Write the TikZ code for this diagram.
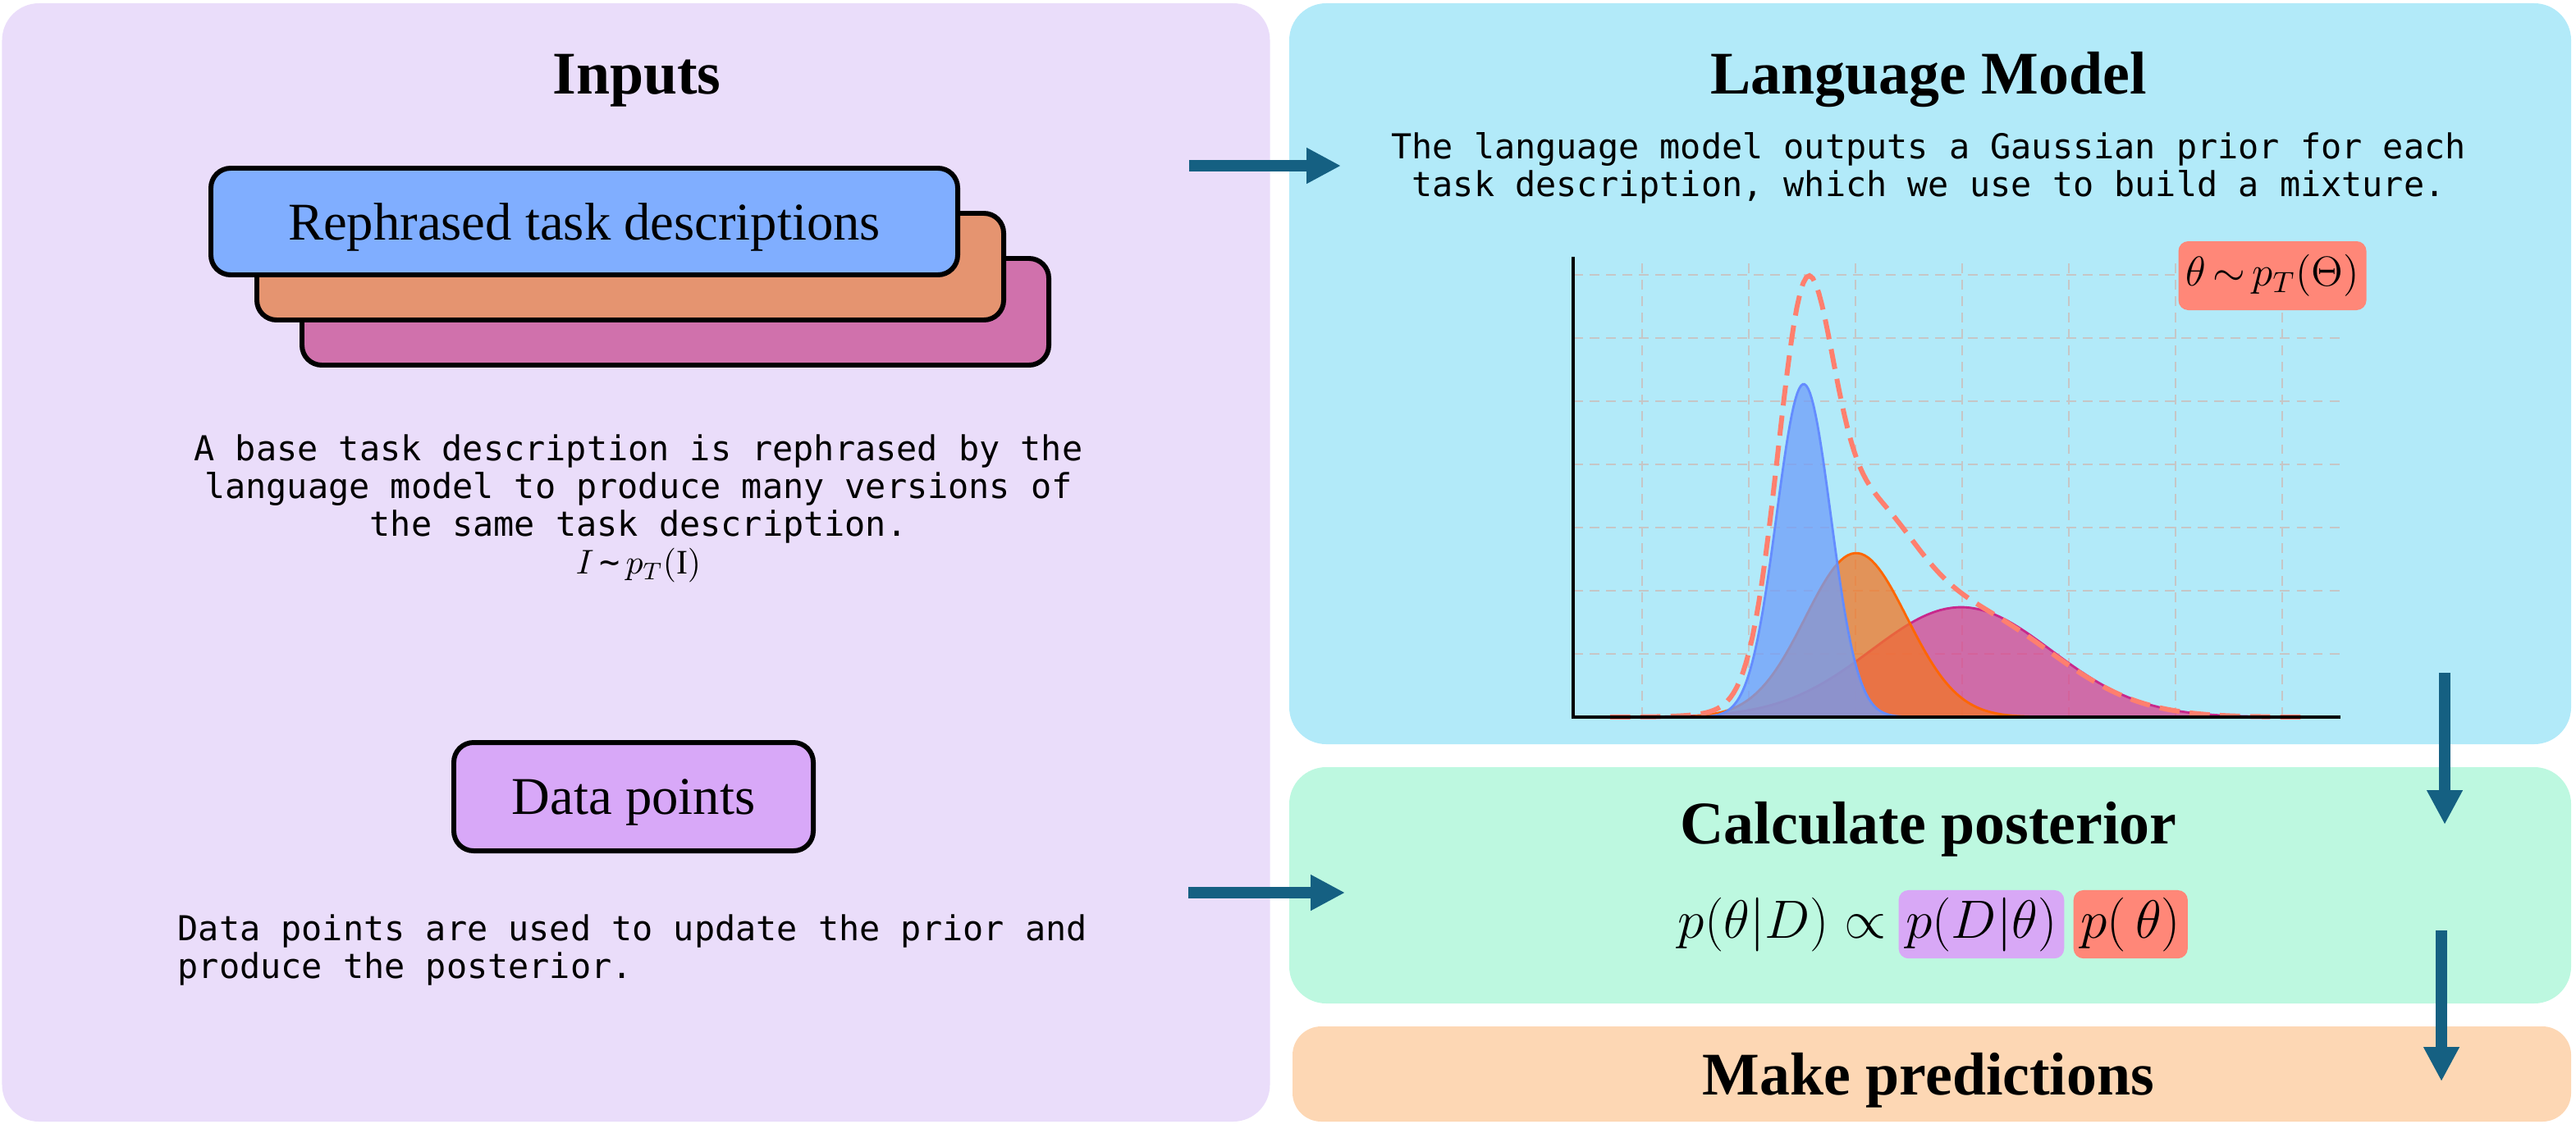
\RequirePackage{fix-cm}
\documentclass[tikz,border=0pt]{standalone}
\usepackage{amsmath,amssymb}
\usepackage{fontspec}
\setmainfont{Liberation Serif}
\newfontfamily\codefont{DejaVu Sans Mono}
\usepackage{xcolor}
\usepackage{tikz}
\usetikzlibrary{arrows.meta, positioning}
\definecolor{inputbg}{RGB}{234, 221, 250}
\definecolor{lmbg}{RGB}{178, 234, 249}
\definecolor{postbg}{RGB}{189, 248, 224}
\definecolor{predbg}{RGB}{253, 215, 180}
\definecolor{arrowc}{RGB}{21, 96, 130}
\definecolor{cardblue}{RGB}{128, 174, 255}
\definecolor{cardorange}{RGB}{229, 148, 112}
\definecolor{cardpink}{RGB}{208, 113, 172}
\definecolor{datac}{RGB}{216, 168, 248}
\definecolor{hlpurple}{RGB}{216, 168, 246}
\definecolor{hlred}{RGB}{255, 135, 120}
\definecolor{pinkfill}{RGB}{217, 66, 141}
\definecolor{orangefill}{RGB}{243, 118, 36}
\definecolor{bluefill}{RGB}{111, 157, 250}
\definecolor{pinkline}{RGB}{200, 40, 140}
\definecolor{orangeline}{RGB}{255, 102, 0}
\definecolor{blueline}{RGB}{100, 140, 255}
\definecolor{mixc}{RGB}{255, 127, 110}

\begin{document}
\begin{tikzpicture}[
    panel/.style={rectangle, rounded corners=0.45cm, inner sep=0pt},
    card/.style={rectangle, draw=black, line width=1.7pt, rounded corners=0.24cm, minimum width=9.1cm, minimum height=1.3cm, text depth=0pt, font=\fontsize{18.4}{22}\selectfont},
    paneltitle/.style={font=\fontsize{21}{25}\selectfont\bfseries, anchor=base, inner sep=0pt},
    desc/.style={font=\codefont\fontsize{11.9}{13.1}\selectfont, align=center, inner sep=0pt},
    hl/.style={rectangle, rounded corners=0.12cm, inner sep=2.5pt, font=\fontsize{18.7}{22}\selectfont},
    flow/.style={-{Triangle[length=4.2mm,width=4.1mm]}, line width=1.4mm, arrowc},
    grid line/.style={gray!45, line width=0.55pt, dash pattern=on 3.4pt off 2.3pt},
    declare function={gauss(\u,\m,\s)=exp(-min(0.5*((\u-\m)/\s)^2,20));}
]
    \useasboundingbox (0,0) rectangle (31.39,-13.97);

    \node[panel, fill=inputbg, minimum width=15.45cm, minimum height=13.63cm] (inputs) at (7.75,-6.855) {};
    \node[panel, fill=lmbg, minimum width=15.62cm, minimum height=9.03cm] (lm) at (23.52,-4.555) {};
    \node[panel, fill=postbg, minimum width=15.62cm, minimum height=2.88cm] (post) at (23.52,-10.79) {};
    \node[panel, fill=predbg, rounded corners=0.35cm, minimum width=15.58cm, minimum height=1.16cm] (pred) at (23.54,-13.09) {};

    \node[paneltitle] (inputstitle) at (7.76,-1.14) {Inputs};
    \node[paneltitle] (lmtitle) at (23.5,-1.14) {Language Model};
    \node[paneltitle] (posttitle) at (23.5,-10.28) {Calculate posterior};
    \node[paneltitle] (predtitle) at (23.5,-13.34) {Make predictions};

    \node[card, fill=cardpink] (card3) at (8.23,-3.80) {};
    \node[card, fill=cardorange] (card2) at (7.68,-3.25) {};
    \node[card, fill=cardblue] (card1) at (7.12,-2.70) {Rephrased task descriptions};
    \node[desc] (inputsdesc) at (7.78,-6.20) {A base task description is rephrased by the\\language model to produce many versions of\\the same task description.\\$I\,\text{\textasciitilde}\,p_T(\mathrm{I})$};

    \node[card, fill=datac, minimum width=4.38cm, minimum height=1.32cm] (data) at (7.72,-9.71) {Data points};
    \node[desc, align=left, anchor=west] (datadesc) at (2.16,-11.58) {Data points are used to update the prior and\\produce the posterior.};

    \node[desc] (lmdesc) at (23.5,-2.05) {The language model outputs a Gaussian prior for each\\task description, which we use to build a mixture.};

    \begin{scope}[shift={(19.17,-8.74)}, x=0.01cm, y=0.01cm]
        \foreach \k in {0,...,6} \draw[grid line] (84+130*\k,0) -- (84+130*\k,556);
        \foreach \k in {1,...,7} \draw[grid line] (0,77*\k) -- (935,77*\k);
        \foreach \m/\s/\h/\fc/\lc in {473/110/134/pinkfill/pinkline, 345/62/200/orangefill/orangeline, 281/33/406/bluefill/blueline}{
            \fill[\fc, fill opacity=0.75] plot[domain=\m-4*\s:\m+4*\s, samples=120] (\x,{\h*gauss(\x,\m,\s)}) -- cycle;
            \draw[\lc, line width=0.8pt] plot[domain=\m-4*\s:\m+4*\s, samples=120] (\x,{\h*gauss(\x,\m,\s)});
        }
        \draw[mixc, line width=1.7pt, dash pattern=on 7pt off 3.5pt] plot[domain=45:890, samples=220] (\x,{0.96*(406*gauss(\x,281,33)+200*gauss(\x,345,62)+134*gauss(\x,473,110))});
        \draw[line width=0.9pt] (0,561) -- (0,0) -- (935,0);
    \end{scope}
    \node[hl, fill=hlred, font=\fontsize{14.5}{17}\selectfont, minimum height=0.84cm, minimum width=2.26cm] (thetalabel) at (27.69,-3.36) {$\theta\,{\sim}\,p_T(\Theta)$};

    \node[anchor=base west, inner sep=0pt, font=\fontsize{18.7}{22}\selectfont] (postlhs) at (20.44,-11.43) {$p(\theta|D)\propto$};
    \node[hl, fill=hlpurple, base right=0.14cm of postlhs] (lik) {$p(D|\theta)$};
    \node[hl, fill=hlred, base right=0.1cm of lik] (prior) {$p(\,\theta)$};

    \coordinate (toLMa) at (14.49,-2.02);
    \coordinate (toLMb) at (16.34,-2.02);
    \coordinate (toPosta) at (14.48,-10.88);
    \coordinate (toPostb) at (16.39,-10.88);
    \coordinate (downAa) at (29.79,-8.20);
    \coordinate (downAb) at (29.79,-10.05);
    \coordinate (downBa) at (29.75,-11.34);
    \coordinate (downBb) at (29.75,-13.18);

    \draw[flow] (toLMa) -- (toLMb);
    \draw[flow] (toPosta) -- (toPostb);
    \draw[flow] (downAa) -- (downAb);
    \draw[flow] (downBa) -- (downBb);
\end{tikzpicture}
\end{document}
